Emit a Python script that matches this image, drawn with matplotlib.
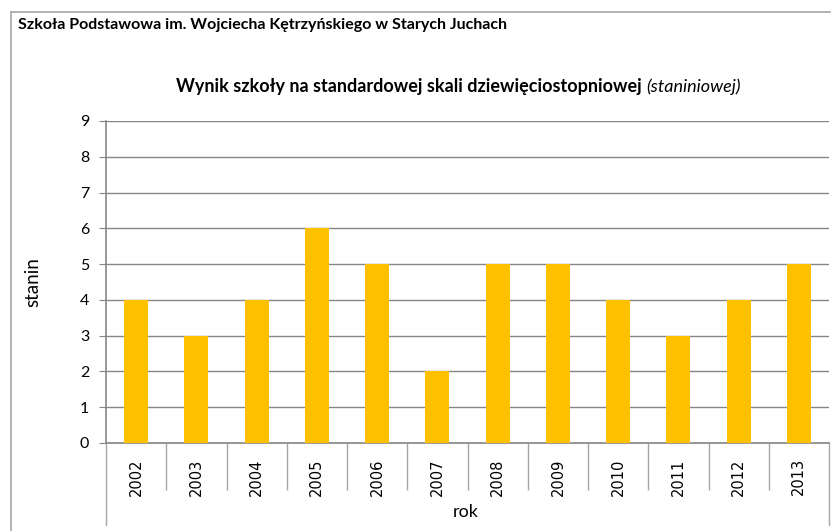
import matplotlib.pyplot as plt
from matplotlib.lines import Line2D

# data
years = ['2002', '2003', '2004', '2005', '2006', '2007',
         '2008', '2009', '2010', '2011', '2012', '2013']
stanin = [4, 3, 4, 6, 5, 2, 5, 5, 4, 3, 4, 5]
y_ticks = list(range(0, 10))

W, H = 831, 531
fig = plt.figure(figsize=(W / 100, H / 100), dpi=100)

def fx(px):
    return px / W

def fy(py):
    return 1 - py / H

# outer frame (left and top edge visible)
frame_col = '#a6a6a6'
fig.add_artist(Line2D([fx(11), fx(11)], [fy(12), 0], color=frame_col, lw=1.2))
fig.add_artist(Line2D([fx(11), fx(830)], [fy(12), fy(12)], color=frame_col, lw=1.2))

fig.text(fx(18), fy(25), 'Szkoła Podstawowa im. Wojciecha Kętrzyńskiego w Starych Juchach',
         fontsize=11.5, fontweight='bold', family='Lato', va='center', ha='left')

ax = fig.add_axes([fx(106), fy(443), fx(829) - fx(106), fy(121) - fy(443)])
x = list(range(len(years)))
ax.bar(x, stanin, width=0.4, color='#ffc000', zorder=3)

ax.set_xlim(-0.5, len(years) - 0.5)
ax.set_ylim(0, 9)
ax.set_yticks(y_ticks)
ax.yaxis.grid(True, color='#868686', lw=1, zorder=0)
ax.tick_params(axis='y', length=5, color='#868686', labelsize=11.5, pad=7)
for lab in ax.get_yticklabels():
    lab.set_family('Lato')

# category separators as major ticks, labels as minor ticks
ax.set_xticks([i + 0.5 for i in x[:-1]])
ax.set_xticklabels([])
ax.tick_params(axis='x', which='major', length=34, color='#a6a6a6', width=1)
ax.set_xticks(x, minor=True)
ax.set_xticklabels(years, minor=True, rotation=90, fontsize=10.5, family='DejaVu Sans')
ax.tick_params(axis='x', which='minor', length=0, pad=11)

for s in ['top', 'right']:
    ax.spines[s].set_visible(False)
ax.spines['left'].set_color('#868686')
ax.spines['bottom'].set_color('#868686')
ax.spines['left'].set_linewidth(1.2)
ax.spines['bottom'].set_linewidth(1.2)

# long outer lines under the category axis
for xx in (-0.5, len(years) - 0.5):
    ax.add_line(Line2D([xx, xx], [0, -82 / 322 * 9], color='#a6a6a6', lw=1, clip_on=False))

ax.set_ylabel('stanin', fontsize=13.5, family='Lato')
ax_w = fx(829) - fx(106)
ax.yaxis.set_label_coords((fx(41) - fx(106)) / ax_w, 0.5)
fig.text(fx(466), fy(512), 'rok', fontsize=13, family='Lato', ha='center', va='center')

# title: bold part followed by italic part
t1 = fig.text(0, fy(87), 'Wynik szkoły na standardowej skali dziewięciostopniowej ',
              fontsize=13, fontweight='bold', family='Lato', va='center', ha='left')
t2 = fig.text(0, fy(87), '(staniniowej)', fontsize=13, style='italic',
              family='Lato', va='center', ha='left')
fig.canvas.draw()
r = fig.canvas.get_renderer()
w1 = t1.get_window_extent(r).width
w2 = t2.get_window_extent(r).width
start = 458 - (w1 + w2) / 2
t1.set_x(fx(start))
t2.set_x(fx(start + w1))

fig.savefig('out.png', dpi=100)
